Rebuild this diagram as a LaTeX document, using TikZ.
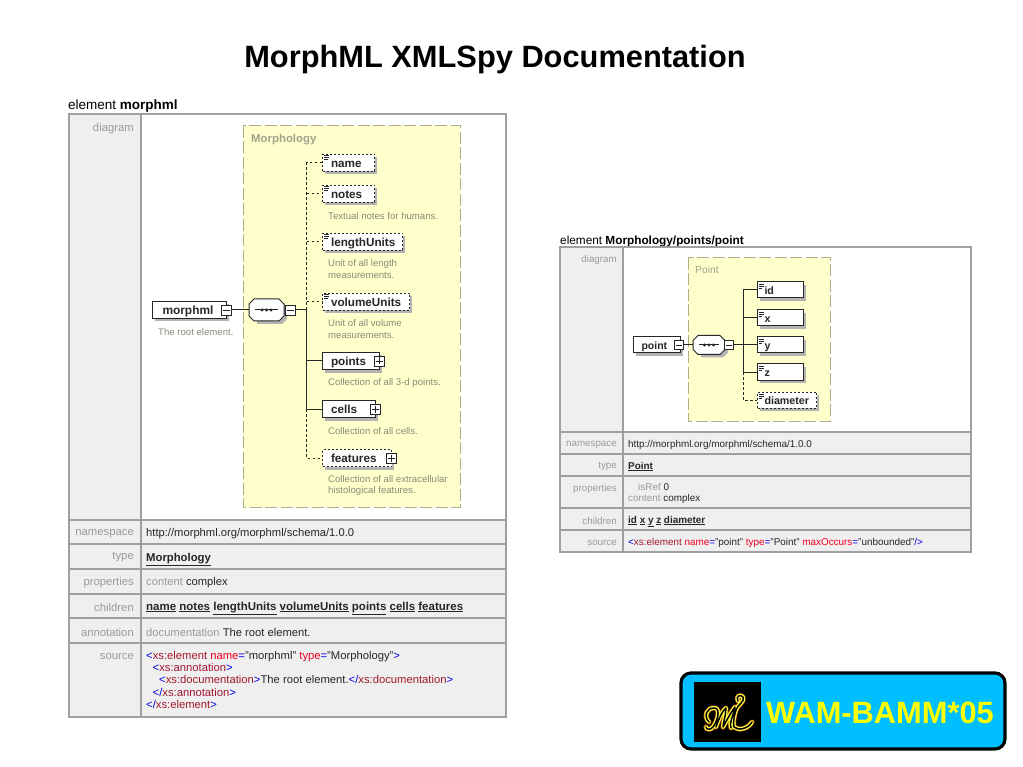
\documentclass[tikz,border=0pt]{standalone}
\usepackage{fontspec}
\setmainfont{Liberation Sans}
\definecolor{rule}{HTML}{A0A0A0}
\definecolor{cellfill}{HTML}{EFEFEF}
\definecolor{lab}{HTML}{9A9A9A}
\definecolor{typefill}{HTML}{FFFFCC}
\definecolor{typeedge}{HTML}{AEAE8C}
\definecolor{typetxt}{HTML}{A3A38C}
\definecolor{xblue}{HTML}{0000E0}
\definecolor{xname}{HTML}{A01830}
\definecolor{xattr}{HTML}{F00020}
\definecolor{badge}{HTML}{00BFFF}
\definecolor{wamyellow}{HTML}{FFFF00}
\definecolor{shadowgray}{HTML}{B4B4B4}
\newcommand{\fs}[1]{\fontsize{#1}{#1}\selectfont}
\newcommand{\fsl}[2]{\fontsize{#1}{#2}\selectfont}
\newcommand{\lk}[1]{\underline{\textbf{#1}}}
\newcommand{\xb}[1]{\textcolor{xblue}{#1}}
\newcommand{\xn}[1]{\textcolor{xname}{#1}}
\newcommand{\xa}[1]{\textcolor{xattr}{#1}}
\newcommand{\lt}{\xb{<}}
\newcommand{\gtt}{\xb{>}}
\tikzset{
  x=1pt,y=-1pt,
  cell/.style={draw=rule,line width=1.3pt,fill=cellfill},
  white cell/.style={draw=rule,line width=1.3pt,fill=white},
  rowlabel/.style={anchor=east,inner sep=0pt,text=lab,font=\fs{#1},yshift=-1.5pt},
  rowvalue/.style={anchor=west,inner sep=0pt,text=black!85,font=\fs{#1},align=left,yshift=-1.5pt},
  heading/.style={anchor=west,inner sep=0pt,font=\fs{#1},yshift=-1.5pt},
  typebox/.style={draw=typeedge,fill=typefill,line width=1pt,dash pattern=on 12pt off 3.5pt},
  typename/.style={anchor=west,inner sep=0pt,text=typetxt,font=\fs{#1}},
  solidel/.style={draw=black!85,fill=white,line width=1pt,anchor=west,inner ysep=0pt,align=left},
  dashel/.style={solidel,dash pattern=on 2pt off 2pt},
  conn/.style={draw=black!85,line width=1pt},
  dashconn/.style={conn,dash pattern=on 2.5pt off 2.5pt},
  tog/.style={draw=black!85,fill=white,line width=.8pt,minimum size=10pt,inner sep=0pt,anchor=center},
  desc/.style={anchor=west,inner sep=0pt,text=typetxt!85!black,font=\fs{9.6},align=left,yshift=-1pt},
  seq/.style={draw=black!85,fill=white,line width=1pt},
}
% #1 name, #2 style, #3 left x, #4 centre y, #5 width, #6 height, #7 inner left, #8 font size, #9 text
\newcommand{\elem}[9]{%
  \fill[shadowgray] (#3+3,#4-#6/2+3) rectangle (#3+#5+3,#4+#6/2+3);
  \node[#2,minimum width=#5pt,minimum height=#6pt,text width=#5pt,text height=10pt,text depth=3pt,inner xsep=0pt,font=\fs{#8}\bfseries,text=black!85,inner ysep=0pt] (#1) at (#3,#4) {\hspace*{#7pt}\raisebox{-.7pt}{#9}};}
% document marker: three short lines at the upper left corner of an element
\newcommand{\docmark}[2]{\draw[black!85,line width=.7pt] (#1,#2) -- ++(5,0) (#1,#2+2) -- ++(5,0) (#1,#2+4) -- ++(3.5,0);}
% sequence compositor: octagon between x1,x2 centred on y, half-height h
\newcommand{\seqbox}[5]{%
  \fill[shadowgray] (#2+3+5,#4-#5+3) -- (#3+3-5,#4-#5+3) -- (#3+3,#4-#5+3+5) -- (#3+3,#4+#5+3-5) -- (#3+3-5,#4+#5+3) -- (#2+3+5,#4+#5+3) -- cycle;
  \path[seq] (#2+5,#4-#5) -- (#3-5,#4-#5) -- (#3,#4-#5+5) -- (#3,#4+#5-5) -- (#3-5,#4+#5) -- (#2+5,#4+#5) -- (#2,#4+#5-5) -- (#2,#4-#5+5) -- cycle;
  \coordinate (#1in) at (#2,#4);
  \coordinate (#1out) at (#3,#4);
  \draw[conn] (#2+6,#4) -- (#3-6,#4);
  \foreach \d in {-4.5,0,4.5} \fill[black!85] ({(#2+#3)/2+\d},#4) circle (1.6pt);
}
\begin{document}
\begin{tikzpicture}
\useasboundingbox (0,0) rectangle (1023,767);
\fill[white] (0,0) rectangle (1023,767);

\node[anchor=center,inner sep=0pt,font=\fs{30.8}\bfseries] (title) at (495,59.5) {MorphML XMLSpy Documentation};

%% ---- left table ----
\node[heading=13.5] (lhead) at (68,105) {element \textbf{morphml}};
\path[cell] (69,114) rectangle (141,520);
\path[white cell] (141,114) rectangle (506,520);
\foreach \a/\b in {520/544,544/569,569/594,594/618,618/643,643/717}{
  \path[cell] (69,\a) rectangle (141,\b);
  \path[cell] (141,\a) rectangle (506,\b);
}
\node[rowlabel=11.3] (l1) at (134,127) {diagram};
\node[rowlabel=11.3] (l2) at (134,532) {namespace};
\node[rowlabel=11.3] (l3) at (134,556) {type};
\node[rowlabel=11.3] (l4) at (134,581) {properties};
\node[rowlabel=11.3] (l5) at (134,606) {children};
\node[rowlabel=11.3] (l6) at (134,631) {annotation};
\node[rowlabel=11.3] (l7) at (134,655) {source};
\node[rowvalue=11.2] (v2) at (146,532) {http://morphml.org/morphml/schema/1.0.0};
\node[rowvalue=11.3,anchor=base west] (v3) at (146,559.5) {\lk{Morphology}};
\node[rowvalue=11.2] (v4) at (146,581) {\textcolor{lab}{content} complex};
\node[rowvalue=11.5,anchor=base west] (v5) at (146,608.5) {\lk{name} \lk{notes} \lk{lengthUnits} \lk{volumeUnits} \lk{points} \lk{cells} \lk{features}};
\node[rowvalue=11.2] (v6) at (146,631) {\textcolor{lab}{documentation} The root element.};
\node[rowvalue=11.2,anchor=north west,font=\fsl{11.25}{12.3}] (v7) at (146,649.5) {%
  \lt\xn{xs:element} \xa{name}\xb{=}"morphml" \xa{type}\xb{=}"Morphology"\gtt\\
  \hspace*{6.5pt}\lt\xn{xs:annotation}\gtt\\
  \hspace*{13pt}\lt\xn{xs:documentation}\gtt The root element.\xb{</}\xn{xs:documentation}\gtt\\
  \hspace*{6.5pt}\xb{</}\xn{xs:annotation}\gtt\\
  \xb{</}\xn{xs:element}\gtt};

%% Morphology type box
\path[typebox] (243,126) rectangle (460,507);
\node[typename=11.4,font=\fs{11.4}\bfseries] (mtype) at (251,139.5) {Morphology};

\elem{morphml}{solidel}{152}{310}{74}{17}{10}{11.9}{morphml}
\node[desc] (d0) at (158,331) {The root element.};
\node[tog] (mtog) at (226,310) {};
\draw[black!85,line width=.8pt] (222.5,310) -- (229.5,310);
\seqbox{mseq}{249}{284}{310}{11}
\node[tog] (mseqtog) at (290,310) {};
\draw[black!85,line width=.8pt] (286.5,310) -- (293.5,310);
\coordinate (mspine) at (306.5,310);
\draw[conn] (mtog) -- (mseqin);
\draw[conn] (mseqtog) -- (mspine);

\elem{name}{dashel}{322}{163}{52}{17}{8.5}{11.7}{name}
\elem{notes}{dashel}{322}{194}{52}{17}{8.5}{11.7}{notes}
\elem{lengthUnits}{dashel}{322}{242}{80}{17}{8.5}{11.7}{lengthUnits}
\elem{volumeUnits}{dashel}{322}{302}{87}{17}{8.5}{11.7}{volumeUnits}
\elem{points}{solidel}{322}{361}{57}{17}{8.5}{11.7}{points}
\elem{cells}{solidel}{322}{409}{53}{17}{8.5}{11.7}{cells}
\elem{features}{dashel}{322}{458}{69}{17}{8.5}{11.7}{features}
\foreach \p/\q in {379/361,375/409,391/458}{
  \node[tog] at (\p,\q) {};
  \draw[black!85,line width=.8pt] (\p-3.5,\q) -- (\p+3.5,\q) (\p,\q-3.5) -- (\p,\q+3.5);
}
\docmark{324}{155.5}\docmark{324}{186.5}\docmark{324}{234.5}\docmark{324}{294}

\coordinate (sname) at (306.5,163);
\coordinate (snotes) at (306.5,194);
\coordinate (slen) at (306.5,242);
\coordinate (svol) at (306.5,302);
\coordinate (spts) at (306.5,361);
\coordinate (scel) at (306.5,409);
\coordinate (sfea) at (306.5,458);
\draw[dashconn] (mspine) -- (sname) -- (name.west);
\draw[dashconn] (snotes) -- (notes.west);
\draw[dashconn] (slen) -- (lengthUnits.west);
\draw[dashconn] (svol) -- (volumeUnits.west);
\draw[conn] (mspine) -- (scel);
\draw[conn] (spts) -- (points.west);
\draw[conn] (scel) -- (cells.west);
\draw[dashconn] (scel) -- (sfea) -- (features.west);

\node[desc] (dn) at (328,215) {Textual notes for humans.};
\node[desc,anchor=north west,font=\fsl{9.6}{11.8}] (dl) at (328,258.5) {Unit of all length\\measurements.};
\node[desc,anchor=north west,font=\fsl{9.6}{11.8}] (dv) at (328,318.5) {Unit of all volume\\measurements.};
\node[desc] (dp) at (328,382) {Collection of all 3-d points.};
\node[desc] (dc) at (328,430) {Collection of all cells.};
\node[desc,anchor=north west,font=\fsl{9.6}{11.8}] (df) at (328,474) {Collection of all extracellular\\histological features.};

%% ---- right table ----
\node[heading=11.8] (rhead) at (560,240) {element \textbf{Morphology/points/point}};
\path[cell] (560,247) rectangle (623,432);
\path[white cell] (623,247) rectangle (971,432);
\foreach \a/\b in {432/454,454/476,476/508,508/530,530/552}{
  \path[cell] (560,\a) rectangle (623,\b);
  \path[cell] (623,\a) rectangle (971,\b);
}
\node[rowlabel=9.8] (r1) at (617,258) {diagram};
\node[rowlabel=9.8] (r2) at (617,443) {namespace};
\node[rowlabel=9.8] (r3) at (617,465) {type};
\node[rowlabel=9.8] (r4) at (617,487) {properties};
\node[rowlabel=9.8] (r5) at (617,519) {children};
\node[rowlabel=9.8] (r6) at (617,541) {source};
\node[rowvalue=9.9] (w2) at (628,443) {http://morphml.org/morphml/schema/1.0.0};
\node[rowvalue=9.9,anchor=base west] (w3) at (628,467.5) {\lk{Point}};
\node[rowvalue=9.9,anchor=north west,font=\fsl{9.9}{11}] (w4) at (628,482) {\hspace*{10pt}\textcolor{lab}{isRef} 0\\\textcolor{lab}{content} complex};
\node[rowvalue=9.9,anchor=base west] (w5) at (628,521.5) {\lk{id} \lk{x} \lk{y} \lk{z} \lk{diameter}};
\node[rowvalue=9.9] (w6) at (628,541) {\lt\xn{xs:element} \xa{name}\xb{=}"point" \xa{type}\xb{=}"Point" \xa{maxOccurs}\xb{=}"unbounded"\xb{/>}};

\path[typebox] (688,258) rectangle (830,421);
\node[typename=10.3] (ptype) at (695,270) {Point};

\elem{point}{solidel}{633}{345}{47}{16}{8}{10.5}{point}
\node[tog,minimum size=9pt] (ptog) at (679,345) {};
\draw[black!85,line width=.8pt] (676,345) -- (682,345);
\seqbox{pseq}{693}{725}{345}{9.5}
\node[tog,minimum size=9pt] (pseqtog) at (729,345) {};
\draw[black!85,line width=.8pt] (726,345) -- (732,345);
\coordinate (pspine) at (743,345);
\draw[conn] (ptog) -- (pseqin);
\draw[conn] (pseqtog) -- (pspine);

\elem{pid}{solidel}{757}{290}{46}{16}{7}{10.7}{id}
\elem{px}{solidel}{757}{318}{46}{16}{7}{10.7}{x}
\elem{py}{solidel}{757}{345}{46}{16}{7}{10.7}{y}
\elem{pz}{solidel}{757}{372}{46}{16}{7}{10.7}{z}
\elem{pdia}{dashel}{757}{400}{59}{16}{7}{10.7}{diameter}
\docmark{758.5}{284}\docmark{758.5}{312}\docmark{758.5}{339}\docmark{758.5}{366}\docmark{758.5}{394}
\coordinate (tid) at (743,290);
\coordinate (tx) at (743,318);
\coordinate (tz) at (743,372);
\coordinate (tdia) at (743,400);
\draw[conn] (tid) -- (tz);
\draw[conn] (tid) -- (pid.west);
\draw[conn] (tx) -- (px.west);
\draw[conn] (pspine) -- (py.west);
\draw[conn] (tz) -- (pz.west);
\draw[dashconn] (tz) -- (tdia) -- (pdia.west);

%% ---- badge ----
\draw[fill=badge,draw=black,line width=3.2pt,rounded corners=10pt] (681,673) rectangle (1005,749);
\fill[black] (694,682) rectangle (761,742);
\foreach \w/\c in {5/orange!75!black,3.8/wamyellow!70!white,1.5/black}{
\draw[draw=\c,line width=\w pt,line cap=round,line join=round]
  (709,722) .. controls (703,716) and (707,707) .. (715,708)
  .. controls (721,709) and (717,722) .. (713,727)
  .. controls (711,730) and (706,730) .. (706,727)
  (716,727) .. controls (719,718) and (723,710) .. (726,708)
  .. controls (726,715) and (723,723) .. (723,727)
  .. controls (727,720) and (731,712) .. (735,707)
  .. controls (733,716) and (729,724) .. (731,728)
  (738,701) .. controls (735,696) and (741,694) .. (743,697)
  .. controls (745,702) and (738,704) .. (736,710)
  .. controls (734,716) and (733,723) .. (734,727)
  .. controls (738,731) and (748,729) .. (752,722);
}
\node[anchor=west,inner sep=0pt,text=wamyellow,font=\fs{30.8}\bfseries] (wam) at (766,713) {WAM-BAMM*05};
\end{tikzpicture}
\end{document}
